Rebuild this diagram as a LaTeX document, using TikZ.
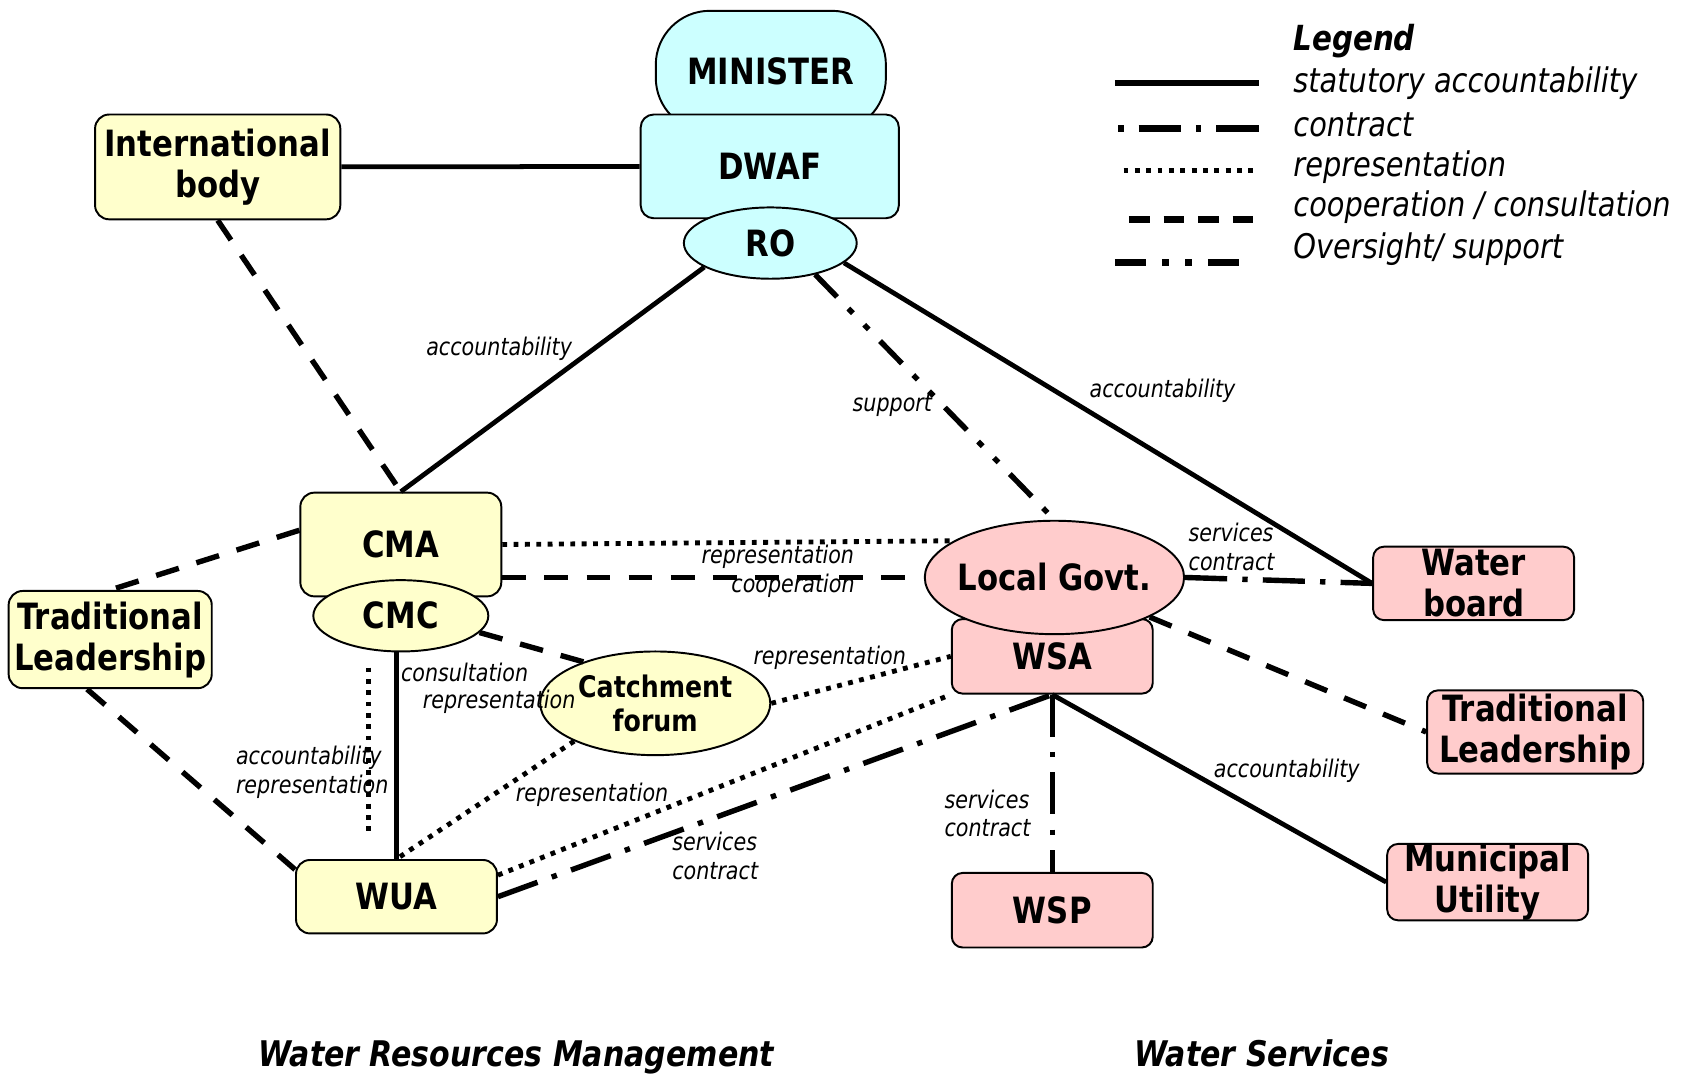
\documentclass[tikz,border=0pt]{standalone}
\usepackage{fontspec}
\setmainfont{DejaVu Sans}[FakeStretch=0.85,
  BoldFont={DejaVu Sans Bold},
  ItalicFont={DejaVu Sans Oblique},
  BoldItalicFont={DejaVu Sans Bold Oblique}]
\usepackage{tikz}
\usetikzlibrary{shapes.geometric}

\definecolor{wrmyellow}{RGB}{255,255,204}
\definecolor{dwafcyan}{RGB}{204,255,255}
\definecolor{wspink}{RGB}{255,204,204}

\begin{document}
\begin{tikzpicture}[x=1pt,y=-1pt,
    box/.style={draw,line width=1.8pt,rounded corners=13pt,align=center,inner sep=0pt,
      font=\fontsize{33.5}{38}\selectfont\bfseries},
    oval/.style={draw,ellipse,line width=1.8pt,align=center,inner sep=0pt,
      font=\fontsize{33.5}{38}\selectfont\bfseries},
    lbl/.style={inner sep=0pt,align=left,font=\fontsize{22.5}{26.5}\selectfont\itshape},
    legtxt/.style={anchor=west,inner sep=0pt,font=\fontsize{31.4}{36}\selectfont\itshape},
    statutory/.style={line width=4.4pt},
    contract/.style={line width=5pt,dash pattern=on 39pt off 14pt on 5pt off 14pt},
    repr/.style={line width=4.5pt,dash pattern=on 4.5pt off 6pt},
    coop/.style={line width=5pt,dash pattern=on 22pt off 17pt},
    oversight/.style={line width=5pt,dash pattern=on 29pt off 15pt on 6pt off 15pt on 6pt off 15pt}]
  \useasboundingbox (0,0) rectangle (1568,994);

  % nodes
  \node[box,fill=dwafcyan,minimum width=213pt,minimum height=112pt,rounded corners=50pt] (minister) at (713.5,66) {MINISTER};
  \node[box,fill=dwafcyan,minimum width=239pt,minimum height=96pt,rounded corners=12pt] (dwaf) at (712.5,154) {DWAF};
  \node[oval,fill=dwafcyan,minimum width=160pt,minimum height=66pt] (ro) at (713,225) {RO};
  \node[box,fill=wrmyellow,minimum width=227pt,minimum height=97pt] (intl) at (201.5,154.5) {International\\body};
  \node[box,fill=wrmyellow,minimum width=186pt,minimum height=96pt] (cma) at (371,504) {CMA};
  \node[oval,fill=wrmyellow,minimum width=162pt,minimum height=66pt] (cmc) at (371,570) {CMC};
  \node[box,fill=wrmyellow,minimum width=188pt,minimum height=90pt] (tradl) at (102,592) {Traditional\\Leadership};
  \node[oval,fill=wrmyellow,minimum width=213pt,minimum height=96pt,
    font=\fontsize{27.5}{32}\selectfont\bfseries] (forum) at (606.5,651) {Catchment\\forum};
  \node[box,fill=wrmyellow,minimum width=186pt,minimum height=68pt] (wua) at (367,830) {WUA};
  \node[box,fill=wspink,minimum width=186pt,minimum height=69pt,rounded corners=10pt] (wsa) at (974,607.5) {WSA};
  \node[oval,fill=wspink,minimum width=240pt,minimum height=105pt,inner xsep=-8pt] (lgov) at (976,534.5) {Local Govt.};
  \node[box,fill=wspink,minimum width=186pt,minimum height=68pt,rounded corners=10pt] (wboard) at (1364,540) {Water\\board};
  \node[box,fill=wspink,minimum width=200pt,minimum height=77pt,rounded corners=10pt] (tradr) at (1421,677.5) {Traditional\\Leadership};
  \node[box,fill=wspink,minimum width=186pt,minimum height=69pt,rounded corners=10pt] (util) at (1377,816.5) {Municipal\\Utility};
  \node[box,fill=wspink,minimum width=186pt,minimum height=69pt,rounded corners=10pt] (wsp) at (974,842.5) {WSP};

  % connectors
  \draw[statutory] (intl) -- (dwaf);
  \draw[coop] (intl.south) -- (cma.north);
  \draw[statutory] (ro.-160) -- (cma.north);
  \draw[oversight] (ro.-35) -- (lgov.north);
  \draw[statutory] (ro.-15) -- (wboard.west);
  \draw[repr] (cma.east) -- (lgov.160);
  \draw[coop] (cma.east |- lgov.west) -- (lgov.west);
  \draw[coop] (cma.172) -- (tradl.north);
  \draw[coop] (tradl.245) -- (wua.165);
  \draw[statutory] (cmc.south -| wua.north) -- (wua.north);
  \draw[repr] ([xshift=-30pt,yshift=-14pt]cmc.south) -- ([xshift=-26pt,yshift=26pt]wua.north);
  \draw[coop] (cmc.-12) -- (forum.150);
  \draw[repr] (forum.east) -- (wsa.west);
  \draw[repr] (forum.205) -- (wua.north);
  \draw[repr] (wua.12) -- (wsa.south west);
  \draw[contract] (wua.east) -- (wsa.south);
  \draw[contract] (lgov.east) -- (wboard.west);
  \draw[coop] (lgov) -- (tradr.west);
  \draw[contract] (wsa.south) -- (wsp.north);
  \draw[statutory] (wsa.south) -- (util.west);

  % connector labels
  \node[lbl] (lroacc) at (462,323) {accountability};
  \node[lbl] (lsupport) at (826,375) {support};
  \node[lbl] (lwbacc) at (1076,362) {accountability};
  \node[lbl] (lcmarep) at (720,515) {representation};
  \node[lbl] (lcmacoop) at (734,542) {cooperation};
  \node[lbl] (lwbcontr) at (1140,506) {services\\contract};
  \node[lbl] (lconsult) at (430,622) {consultation};
  \node[lbl] (lforumrep) at (462,650) {representation};
  \node[lbl] (lwuaacc) at (289,715) {accountability\\representation};
  \node[lbl] (lwsarep) at (768,609) {representation};
  \node[lbl] (lwuarep) at (548,736) {representation};
  \node[lbl] (lwuacontr) at (662,792) {services\\contract};
  \node[lbl] (lwspcontr) at (914,753) {services\\contract};
  \node[lbl] (lutilacc) at (1191,713) {accountability};

  % legend
  \node[legtxt,font=\fontsize{32}{36}\selectfont\bfseries\itshape] (legend) at (1197,38) {Legend};
  \node[legtxt] (lstat) at (1197,77) {statutory accountability};
  \node[legtxt] (lcontr) at (1197,116) {contract};
  \node[legtxt] (lrepr) at (1197,155) {representation};
  \node[legtxt] (lcoop) at (1197,192) {cooperation / consultation};
  \node[legtxt] (lover) at (1197,231) {Oversight/ support};
  \draw[statutory,line width=6pt] (1032,77) -- (1165,77);
  \draw[contract,line width=6pt,dash pattern=on 5pt off 14pt on 39pt off 14pt] (1035,119) -- (1165,119);
  \draw[repr] (1040,158) -- (1165,158);
  \draw[coop,line width=6pt,dash pattern=on 19pt off 13pt] (1045,203) -- (1160,203);
  \draw[oversight,line width=6pt] (1032,243) -- (1152,243);

  % titles
  \node[anchor=base,font=\fontsize{32.7}{38}\selectfont\bfseries\itshape] (wrm) at (478,987) {Water Resources Management};
  \node[anchor=base,font=\fontsize{32.7}{38}\selectfont\bfseries\itshape] (ws) at (1168,987) {Water Services};
\end{tikzpicture}
\end{document}
